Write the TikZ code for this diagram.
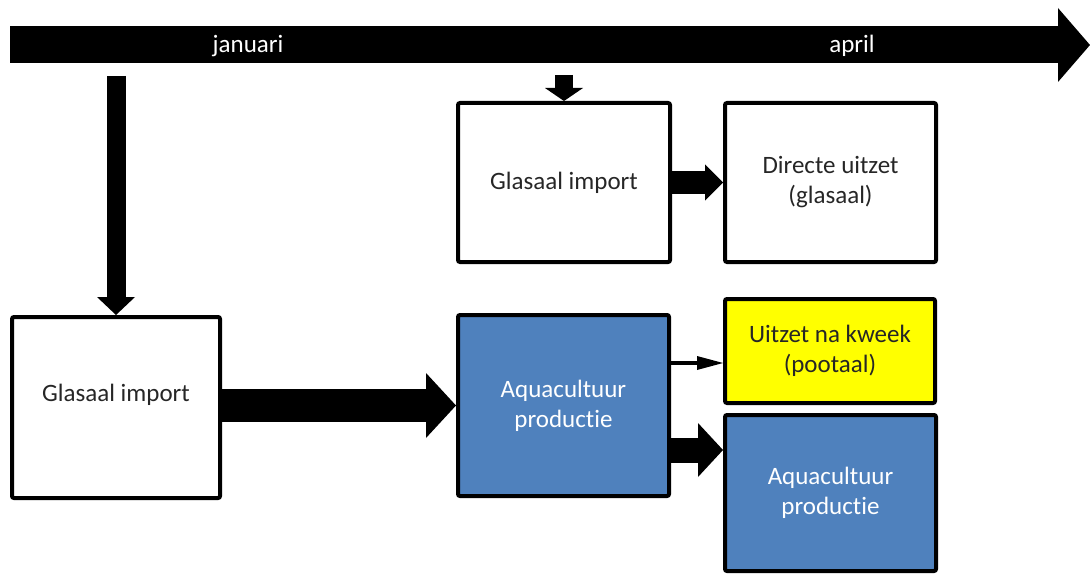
\documentclass[tikz,border=0pt]{standalone}
\usepackage{fontspec}
\setmainfont[Ligatures=NoCommon]{Carlito}
\usepackage{tikz}
\usetikzlibrary{arrows.meta}
\definecolor{aquablue}{RGB}{79,129,189}
\definecolor{kweekgeel}{RGB}{255,255,0}

\tikzset{
	box/.style={draw=black,line width=4pt,rounded corners=2pt,align=center,inner sep=0pt,text=black!85},
	fat/.style n args={3}{line width=#1pt,-{Triangle[width=#2pt,length=#3pt,line width=0pt]}}
}

\begin{document}
\begin{tikzpicture}[x=1pt,y=-1pt,font=\fontsize{25}{30}\selectfont]
		\useasboundingbox (0,0) rectangle (1090,575);
		\coordinate (T0) at (10,45);
		\coordinate (T1) at (1090,45);
		\coordinate (D0) at (116,76);
		\coordinate (D1) at (564,75);
		\coordinate (thin) at (0,363);
		\coordinate (thick) at (0,450);
		\draw[fat={37}{74}{32}] (T0) -- (T1);
		\node[text=white] (jan) at (248,46) {januari};
		\node[text=white] (apr) at (852,46) {april};
		\node[box,minimum width=208pt,minimum height=181pt] (imp2) at (116,407.5) {Glasaal import\\\mbox{}};
		\node[box,minimum width=212pt,minimum height=159pt] (imp1) at (564,182.5) {Glasaal import};
		\node[box,minimum width=211pt,minimum height=159pt] (direct) at (830.5,182.5) {Directe uitzet\\(glasaal)};
		\node[box,fill=aquablue,text=white,minimum width=211pt,minimum height=181pt] (aqua1) at (563.5,405.5) {Aquacultuur\\productie};
		\node[box,fill=kweekgeel,minimum width=210pt,minimum height=104pt] (yellow) at (830,351) {Uitzet na kweek\\(pootaal)};
		\node[box,fill=aquablue,text=white,minimum width=211pt,minimum height=156pt] (aqua2) at (830.5,493) {Aquacultuur\\productie};
		\draw[fat={19}{38}{18}] (D0) -- (imp2.north);
		\draw[fat={18}{38}{13}] (D1) -- (imp1.north);
		\draw[fat={22}{36}{18}] (imp1.east) -- (direct.west);
		\draw[fat={33}{65}{30}] (aqua1.west -| imp2.east) -- (aqua1.west);
		\draw[fat={4}{14}{26}] (aqua1.east |- thin) -- (yellow.west |- thin);
		\draw[fat={25}{54}{25}] (aqua1.east |- thick) -- (aqua2.west |- thick);
	    \end{tikzpicture}
\end{document}
